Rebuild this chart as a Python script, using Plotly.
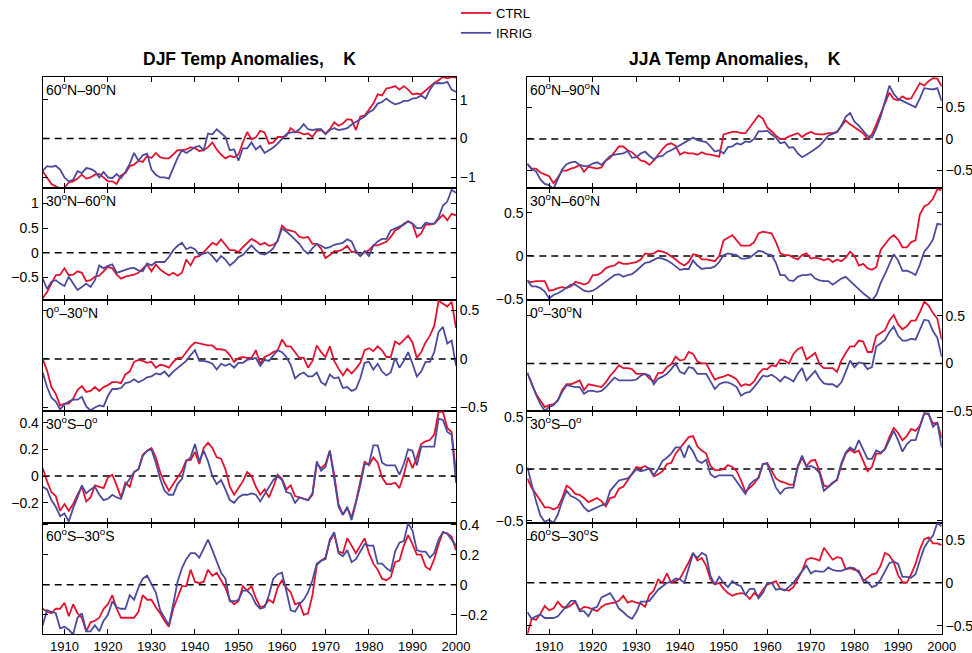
import plotly.graph_objects as go

# ---------------------------------------------------------------------------
# Annual temperature anomalies (K), 1905-2000, control vs. irrigation runs
# ---------------------------------------------------------------------------
years = list(range(1905, 2001))

# DJF, 60N-90N
djf_n60_90_ctrl = [
    -0.84, -1.02, -1.17, -1.23, -1.28, -1.26, -1.13, -1.10, -1.03, -0.93,
    -1.03, -1.00, -0.93, -0.91, -1.00, -1.10, -1.10, -1.17, -0.95, -0.89,
    -0.71, -0.67, -0.57, -0.60, -0.45, -0.50, -0.37, -0.48, -0.51, -0.51,
    -0.41, -0.30, -0.30, -0.28, -0.22, -0.25, -0.32, -0.30, -0.22, -0.10,
    -0.28, -0.41, -0.51, -0.45, -0.48, -0.41, -0.10, 0.17, -0.02, 0.03,
    0.20, 0.16, -0.13, -0.10, 0.04, 0.04, 0.07, 0.27, 0.18, 0.16,
    0.11, 0.13, 0.04, 0.20, 0.22, 0.13, 0.24, 0.42, 0.33, 0.39,
    0.50, 0.48, 0.22, 0.57, 0.59, 0.74, 0.90, 1.14, 1.11, 1.29,
    1.31, 1.35, 1.26, 1.35, 1.26, 1.14, 1.16, 1.14, 1.24, 1.35,
    1.43, 1.50, 1.59, 1.55, 1.59, 1.57]
djf_n60_90_irrig = [
    -0.83, -0.71, -0.73, -0.70, -0.80, -1.00, -1.10, -1.06, -0.84, -0.89,
    -0.76, -0.78, -0.84, -1.00, -0.86, -1.00, -1.02, -0.91, -1.02, -0.86,
    -0.65, -0.37, -0.57, -0.43, -0.39, -0.80, -0.93, -1.00, -1.00, -1.03,
    -0.76, -0.50, -0.30, -0.37, -0.30, -0.22, -0.19, -0.30, 0.13, 0.11,
    0.24, 0.13, 0.04, -0.30, -0.28, -0.57, -0.25, -0.25, -0.10, -0.28,
    -0.19, -0.37, -0.30, -0.23, -0.13, -0.02, 0.11, 0.16, 0.16, 0.24,
    0.37, 0.24, 0.22, 0.24, 0.24, 0.11, 0.22, 0.27, 0.22, 0.24,
    0.27, 0.36, 0.42, 0.50, 0.57, 0.68, 0.74, 0.90, 0.94, 1.03,
    0.94, 0.88, 0.91, 0.97, 0.97, 1.03, 1.05, 1.11, 1.03, 1.26,
    1.42, 1.43, 1.42, 1.46, 1.26, 1.20]

# DJF, 30N-60N
djf_n30_60_ctrl = [
    -0.93, -0.80, -0.63, -0.46, -0.45, -0.32, -0.46, -0.45, -0.38, -0.41,
    -0.58, -0.56, -0.49, -0.47, -0.38, -0.29, -0.32, -0.45, -0.53, -0.49,
    -0.47, -0.45, -0.41, -0.32, -0.24, -0.38, -0.24, -0.34, -0.41, -0.46,
    -0.41, -0.47, -0.41, -0.14, -0.26, -0.09, -0.07, 0.01, 0.11, 0.20,
    0.16, 0.27, 0.16, 0.05, 0.05, 0.01, 0.11, 0.20, 0.28, 0.23,
    0.16, 0.20, 0.14, 0.16, 0.23, 0.55, 0.47, 0.45, 0.42, 0.32,
    0.30, 0.32, 0.18, 0.18, 0.08, -0.11, -0.05, 0.03, 0.03, 0.07,
    0.14, 0.01, 0.03, -0.07, 0.01, 0.05, 0.15, 0.15, 0.18, 0.22,
    0.32, 0.45, 0.50, 0.59, 0.64, 0.59, 0.32, 0.39, 0.57, 0.57,
    0.59, 0.69, 0.77, 0.66, 0.79, 0.76]
djf_n30_60_irrig = [
    -0.53, -0.74, -0.59, -0.56, -0.63, -0.68, -0.49, -0.63, -0.76, -0.70,
    -0.63, -0.70, -0.56, -0.26, -0.32, -0.27, -0.24, -0.41, -0.38, -0.36,
    -0.32, -0.31, -0.36, -0.38, -0.22, -0.26, -0.19, -0.19, -0.19, -0.09,
    0.05, 0.14, 0.20, 0.07, 0.11, 0.07, -0.05, -0.02, 0.01, -0.07,
    -0.18, -0.07, -0.14, -0.26, -0.19, -0.09, -0.05, 0.05, 0.15, 0.05,
    -0.02, -0.04, 0.01, 0.09, 0.25, 0.49, 0.43, 0.35, 0.27, 0.18,
    0.05, -0.02, 0.09, 0.18, 0.14, 0.09, 0.11, 0.16, 0.18, 0.20,
    0.27, 0.23, 0.03, -0.07, 0.03, -0.07, 0.14, 0.23, 0.28, 0.28,
    0.45, 0.49, 0.54, 0.57, 0.64, 0.59, 0.50, 0.50, 0.61, 0.59,
    0.59, 0.72, 0.96, 1.04, 1.28, 1.22]

# DJF, 0-30N
djf_n0_30_ctrl = [
    0.00, -0.12, -0.29, -0.36, -0.48, -0.46, -0.46, -0.41, -0.32, -0.28,
    -0.34, -0.33, -0.29, -0.33, -0.29, -0.27, -0.24, -0.24, -0.25, -0.16,
    -0.13, -0.03, -0.01, -0.02, -0.04, -0.03, -0.09, -0.06, -0.07, -0.09,
    -0.03, 0.01, 0.01, 0.07, 0.13, 0.17, 0.16, 0.15, 0.14, 0.14,
    0.10, 0.10, 0.09, 0.04, -0.03, 0.01, 0.02, 0.01, 0.01, 0.09,
    -0.05, 0.02, 0.04, 0.07, 0.09, 0.20, 0.13, 0.13, 0.07, 0.01,
    0.01, -0.09, -0.02, 0.14, 0.07, 0.02, 0.13, -0.02, -0.10, -0.17,
    -0.10, -0.15, -0.10, -0.04, 0.09, 0.11, 0.08, 0.13, 0.09, 0.02,
    0.02, 0.18, 0.15, 0.19, 0.24, 0.17, 0.01, 0.07, 0.17, 0.24,
    0.34, 0.60, 0.57, 0.54, 0.59, 0.32]
djf_n0_30_irrig = [
    -0.14, -0.29, -0.40, -0.44, -0.52, -0.47, -0.44, -0.42, -0.42, -0.39,
    -0.49, -0.53, -0.50, -0.48, -0.49, -0.38, -0.31, -0.31, -0.30, -0.25,
    -0.24, -0.21, -0.24, -0.22, -0.19, -0.18, -0.15, -0.16, -0.13, -0.18,
    -0.13, -0.09, -0.05, -0.02, 0.04, 0.09, -0.02, -0.02, -0.03, -0.05,
    -0.11, -0.05, -0.07, -0.05, -0.09, -0.04, -0.04, -0.01, 0.00, 0.01,
    -0.07, -0.01, -0.02, 0.04, 0.09, 0.07, 0.02, -0.06, -0.20, -0.16,
    -0.14, -0.18, -0.18, -0.14, -0.24, -0.27, -0.16, -0.20, -0.19, -0.30,
    -0.29, -0.33, -0.31, -0.20, -0.04, -0.03, -0.11, -0.05, -0.13, -0.17,
    -0.14, 0.01, -0.09, -0.02, 0.07, -0.05, -0.18, -0.13, -0.03, -0.03,
    0.07, 0.28, 0.33, 0.16, 0.19, -0.07]

# DJF, 30S-0
djf_s30_0_ctrl = [
    0.06, -0.04, -0.12, -0.15, -0.26, -0.21, -0.26, -0.21, -0.14, -0.08,
    -0.19, -0.16, -0.07, -0.08, -0.09, -0.01, 0.01, -0.07, -0.16, -0.05,
    -0.08, 0.03, 0.05, 0.16, 0.19, 0.21, 0.14, 0.03, -0.05, -0.11,
    -0.06, 0.00, 0.04, 0.12, 0.12, 0.18, 0.09, 0.21, 0.25, 0.21,
    0.14, 0.13, 0.05, -0.08, -0.14, -0.09, -0.04, 0.03, 0.00, -0.08,
    -0.14, -0.10, -0.16, -0.08, 0.01, -0.02, -0.10, -0.07, -0.15, -0.16,
    -0.17, -0.18, -0.14, 0.09, 0.06, 0.09, 0.19, 0.01, -0.21, -0.29,
    -0.24, -0.31, -0.19, -0.04, 0.11, 0.08, 0.14, 0.10, -0.01, -0.06,
    -0.06, -0.05, -0.09, 0.01, 0.14, 0.06, 0.14, 0.24, 0.26, 0.27,
    0.31, 0.48, 0.48, 0.36, 0.33, 0.02]
djf_s30_0_irrig = [
    -0.08, -0.10, -0.18, -0.23, -0.30, -0.28, -0.34, -0.24, -0.16, -0.07,
    -0.13, -0.10, -0.08, -0.14, -0.18, -0.17, -0.14, -0.16, -0.17, -0.07,
    -0.02, 0.03, 0.05, 0.15, 0.19, 0.20, 0.10, -0.02, -0.11, -0.14,
    -0.14, -0.06, -0.02, 0.11, 0.14, 0.24, 0.11, 0.19, 0.11, 0.00,
    -0.06, -0.03, -0.10, -0.18, -0.20, -0.16, -0.14, -0.14, -0.13, -0.14,
    -0.19, -0.14, -0.08, -0.03, 0.00, -0.03, -0.12, -0.13, -0.20, -0.16,
    -0.17, -0.18, -0.13, 0.11, 0.04, 0.07, 0.19, -0.01, -0.23, -0.29,
    -0.23, -0.33, -0.21, -0.07, 0.09, 0.09, 0.23, 0.23, 0.10, 0.08,
    0.08, 0.08, 0.01, 0.09, 0.20, 0.19, 0.08, 0.22, 0.22, 0.22,
    0.22, 0.43, 0.42, 0.33, 0.31, -0.05]

# DJF, 60S-30S
djf_s60_30_ctrl = [
    -0.16, -0.18, -0.19, -0.16, -0.16, -0.12, -0.21, -0.13, -0.19, -0.22,
    -0.31, -0.25, -0.24, -0.22, -0.16, -0.13, -0.07, -0.16, -0.22, -0.22,
    -0.22, -0.22, -0.18, -0.07, -0.10, -0.10, -0.15, -0.19, -0.24, -0.28,
    -0.16, -0.08, -0.01, -0.01, 0.10, 0.02, 0.01, 0.02, 0.10, 0.06,
    0.08, 0.03, -0.02, -0.10, -0.13, -0.11, -0.01, -0.04, -0.01, -0.09,
    -0.15, -0.14, -0.10, -0.12, -0.02, 0.03, -0.02, -0.05, -0.13, -0.12,
    -0.20, -0.19, -0.07, 0.13, 0.16, 0.18, 0.29, 0.34, 0.22, 0.21,
    0.31, 0.26, 0.21, 0.26, 0.31, 0.21, 0.14, 0.10, 0.04, 0.03,
    0.05, 0.15, 0.16, 0.26, 0.33, 0.27, 0.20, 0.20, 0.12, 0.10,
    0.17, 0.27, 0.35, 0.34, 0.32, 0.23]
djf_s60_30_irrig = [
    -0.27, -0.17, -0.18, -0.19, -0.29, -0.28, -0.30, -0.33, -0.22, -0.19,
    -0.31, -0.31, -0.27, -0.31, -0.24, -0.20, -0.11, -0.15, -0.16, -0.16,
    -0.07, -0.10, -0.02, 0.04, 0.06, 0.00, -0.05, -0.17, -0.22, -0.27,
    -0.13, 0.02, 0.11, 0.17, 0.21, 0.21, 0.18, 0.24, 0.30, 0.23,
    0.15, 0.08, 0.04, -0.11, -0.11, -0.10, -0.04, -0.04, -0.07, -0.13,
    -0.16, -0.15, -0.07, 0.04, 0.07, 0.08, -0.04, -0.17, -0.18, -0.13,
    -0.10, -0.05, 0.03, 0.14, 0.16, 0.17, 0.30, 0.35, 0.21, 0.19,
    0.23, 0.15, 0.17, 0.22, 0.27, 0.26, 0.26, 0.14, 0.14, 0.11,
    0.09, 0.22, 0.28, 0.29, 0.41, 0.36, 0.23, 0.22, 0.22, 0.18,
    0.21, 0.30, 0.35, 0.34, 0.30, 0.26]

# JJA, 60N-90N
jja_n60_90_ctrl = [
    -0.40, -0.47, -0.47, -0.53, -0.56, -0.59, -0.70, -0.61, -0.50, -0.50,
    -0.47, -0.45, -0.41, -0.52, -0.44, -0.45, -0.47, -0.45, -0.34, -0.30,
    -0.21, -0.12, -0.12, -0.18, -0.21, -0.28, -0.34, -0.36, -0.41, -0.34,
    -0.24, -0.16, -0.09, -0.07, -0.11, -0.25, -0.21, -0.23, -0.23, -0.25,
    -0.21, -0.24, -0.25, -0.27, -0.28, 0.07, 0.09, 0.11, 0.11, 0.09,
    0.09, 0.18, 0.27, 0.37, 0.32, 0.18, 0.12, 0.05, 0.00, 0.00,
    0.04, 0.07, 0.09, 0.03, 0.08, 0.11, 0.08, 0.07, 0.07, 0.09,
    0.09, 0.11, 0.20, 0.29, 0.23, 0.18, 0.13, 0.09, 0.00, 0.07,
    0.23, 0.39, 0.56, 0.73, 0.63, 0.61, 0.67, 0.63, 0.64, 0.76,
    0.88, 0.84, 0.91, 0.96, 0.95, 0.83]
jja_n60_90_irrig = [
    -0.39, -0.48, -0.51, -0.64, -0.71, -0.73, -0.79, -0.64, -0.48, -0.40,
    -0.37, -0.36, -0.41, -0.43, -0.43, -0.39, -0.37, -0.41, -0.34, -0.27,
    -0.25, -0.24, -0.23, -0.19, -0.30, -0.29, -0.23, -0.20, -0.27, -0.32,
    -0.28, -0.27, -0.21, -0.18, -0.14, -0.11, -0.07, -0.03, 0.02, -0.02,
    -0.03, -0.05, -0.12, -0.20, -0.18, -0.23, -0.13, -0.12, -0.07, -0.09,
    -0.04, -0.05, 0.00, 0.12, 0.12, 0.13, 0.07, 0.02, -0.07, -0.05,
    -0.14, -0.13, -0.23, -0.29, -0.25, -0.21, -0.16, -0.11, -0.03, 0.05,
    0.08, 0.11, 0.21, 0.35, 0.41, 0.27, 0.21, 0.13, 0.05, 0.02,
    0.16, 0.35, 0.61, 0.84, 0.71, 0.63, 0.60, 0.57, 0.53, 0.50,
    0.64, 0.80, 0.79, 0.78, 0.80, 0.60]

# JJA, 30N-60N
jja_n30_60_ctrl = [
    -0.29, -0.30, -0.29, -0.29, -0.29, -0.40, -0.39, -0.37, -0.36, -0.37,
    -0.35, -0.30, -0.31, -0.33, -0.31, -0.22, -0.22, -0.19, -0.14, -0.12,
    -0.11, -0.07, -0.09, -0.09, -0.08, -0.07, -0.04, 0.03, 0.02, 0.03,
    0.06, 0.05, 0.03, 0.00, -0.04, -0.08, -0.11, -0.07, 0.02, 0.01,
    -0.04, -0.04, -0.05, -0.06, 0.00, 0.18, 0.21, 0.24, 0.18, 0.12,
    0.12, 0.12, 0.16, 0.26, 0.28, 0.27, 0.26, 0.16, 0.03, 0.01,
    0.01, -0.02, -0.04, 0.01, 0.03, -0.03, -0.02, -0.03, -0.05, -0.03,
    -0.07, -0.04, -0.06, -0.02, 0.05, 0.00, -0.11, -0.09, -0.14, -0.16,
    -0.13, 0.07, 0.14, 0.20, 0.24, 0.19, 0.10, 0.10, 0.16, 0.18,
    0.48, 0.57, 0.60, 0.66, 0.77, 0.76]
jja_n30_60_irrig = [
    -0.28, -0.35, -0.35, -0.37, -0.41, -0.49, -0.45, -0.43, -0.40, -0.37,
    -0.33, -0.33, -0.37, -0.40, -0.41, -0.40, -0.37, -0.33, -0.30, -0.26,
    -0.22, -0.21, -0.24, -0.22, -0.21, -0.17, -0.12, -0.08, -0.07, -0.04,
    -0.02, -0.03, -0.05, -0.08, -0.12, -0.16, -0.15, -0.15, -0.05, -0.11,
    -0.15, -0.14, -0.14, -0.12, -0.07, 0.01, 0.03, 0.02, 0.01, -0.03,
    -0.03, -0.02, 0.02, 0.06, 0.05, 0.02, 0.01, -0.08, -0.22, -0.22,
    -0.28, -0.29, -0.24, -0.22, -0.22, -0.21, -0.26, -0.28, -0.29, -0.29,
    -0.33, -0.30, -0.26, -0.24, -0.29, -0.33, -0.38, -0.43, -0.47, -0.51,
    -0.45, -0.31, -0.21, -0.10, 0.02, -0.05, -0.17, -0.17, -0.19, -0.22,
    -0.10, 0.05, 0.11, 0.19, 0.37, 0.36]

# JJA, 0-30N
jja_n0_30_ctrl = [
    -0.10, -0.22, -0.32, -0.39, -0.46, -0.44, -0.43, -0.39, -0.28, -0.22,
    -0.22, -0.20, -0.18, -0.28, -0.22, -0.23, -0.24, -0.25, -0.20, -0.13,
    -0.08, -0.02, -0.05, -0.05, -0.06, -0.11, -0.11, -0.11, -0.16, -0.19,
    -0.10, -0.10, -0.04, -0.01, 0.07, 0.03, 0.04, 0.12, 0.10, 0.02,
    0.00, 0.00, -0.09, -0.17, -0.15, -0.14, -0.12, -0.14, -0.17, -0.24,
    -0.22, -0.23, -0.19, -0.11, -0.06, -0.06, -0.02, -0.03, 0.04, 0.03,
    0.00, 0.10, 0.15, 0.17, 0.04, 0.08, 0.11, -0.01, -0.05, -0.05,
    -0.05, -0.09, 0.03, 0.11, 0.18, 0.18, 0.24, 0.23, 0.12, 0.12,
    0.29, 0.32, 0.35, 0.45, 0.51, 0.41, 0.36, 0.39, 0.45, 0.45,
    0.54, 0.65, 0.61, 0.53, 0.47, 0.25]
jja_n0_30_irrig = [
    -0.10, -0.22, -0.33, -0.43, -0.50, -0.46, -0.44, -0.39, -0.30, -0.23,
    -0.24, -0.25, -0.25, -0.32, -0.29, -0.29, -0.30, -0.29, -0.25, -0.20,
    -0.15, -0.18, -0.18, -0.18, -0.18, -0.17, -0.13, -0.11, -0.13, -0.22,
    -0.16, -0.14, -0.11, -0.06, 0.00, -0.09, -0.11, -0.04, -0.05, -0.11,
    -0.11, -0.11, -0.19, -0.27, -0.22, -0.20, -0.20, -0.22, -0.25, -0.34,
    -0.31, -0.30, -0.25, -0.19, -0.13, -0.14, -0.12, -0.15, -0.19, -0.14,
    -0.16, -0.19, -0.11, -0.05, -0.18, -0.13, -0.08, -0.16, -0.21, -0.22,
    -0.22, -0.25, -0.20, -0.09, 0.03, -0.04, 0.01, 0.00, -0.06, -0.04,
    0.18, 0.21, 0.25, 0.33, 0.39, 0.29, 0.24, 0.24, 0.26, 0.25,
    0.36, 0.46, 0.45, 0.34, 0.27, 0.07]

# JJA, 30S-0
jja_s30_0_ctrl = [
    -0.09, -0.18, -0.24, -0.31, -0.37, -0.37, -0.39, -0.37, -0.28, -0.16,
    -0.19, -0.24, -0.25, -0.28, -0.32, -0.30, -0.28, -0.31, -0.36, -0.28,
    -0.27, -0.19, -0.17, -0.11, -0.04, 0.02, 0.01, 0.03, 0.00, -0.07,
    -0.05, -0.02, 0.05, 0.06, 0.15, 0.20, 0.26, 0.31, 0.32, 0.22,
    0.18, 0.15, 0.03, -0.01, -0.01, 0.00, 0.04, 0.02, -0.02, -0.11,
    -0.22, -0.18, -0.14, -0.08, 0.05, 0.06, -0.02, -0.09, -0.12, -0.13,
    -0.15, -0.15, 0.02, 0.11, 0.03, 0.08, 0.09, -0.02, -0.16, -0.17,
    -0.13, -0.11, 0.04, 0.15, 0.19, 0.16, 0.18, 0.08, -0.02, 0.02,
    0.15, 0.15, 0.20, 0.31, 0.40, 0.35, 0.28, 0.32, 0.39, 0.37,
    0.42, 0.54, 0.53, 0.44, 0.45, 0.30]
jja_s30_0_irrig = [
    0.02, -0.16, -0.31, -0.45, -0.51, -0.49, -0.52, -0.44, -0.31, -0.21,
    -0.26, -0.28, -0.31, -0.37, -0.41, -0.39, -0.37, -0.35, -0.34, -0.21,
    -0.16, -0.11, -0.10, -0.09, -0.05, 0.00, -0.02, -0.01, 0.01, -0.06,
    0.00, 0.08, 0.11, 0.15, 0.21, 0.21, 0.11, 0.23, 0.17, 0.08,
    0.06, 0.09, -0.05, -0.08, -0.06, -0.06, -0.06, -0.06, -0.12, -0.18,
    -0.24, -0.15, -0.11, -0.09, 0.05, 0.05, -0.06, -0.18, -0.24, -0.19,
    -0.18, -0.18, 0.03, 0.13, 0.02, 0.03, 0.01, -0.04, -0.21, -0.17,
    -0.13, -0.10, 0.06, 0.16, 0.21, 0.18, 0.28, 0.19, 0.10, 0.10,
    0.18, 0.16, 0.19, 0.28, 0.37, 0.28, 0.17, 0.24, 0.28, 0.28,
    0.40, 0.54, 0.54, 0.41, 0.45, 0.21]

# JJA, 60S-30S
jja_s60_30_ctrl = [
    -0.60, -0.42, -0.43, -0.36, -0.27, -0.32, -0.30, -0.22, -0.28, -0.29,
    -0.26, -0.22, -0.32, -0.28, -0.29, -0.31, -0.33, -0.28, -0.25, -0.24,
    -0.23, -0.21, -0.15, -0.23, -0.21, -0.23, -0.24, -0.28, -0.14, -0.09,
    0.04, 0.00, 0.11, 0.00, 0.02, 0.05, 0.14, 0.24, 0.35, 0.26,
    0.29, 0.20, 0.04, -0.02, 0.00, -0.07, -0.12, -0.15, -0.13, -0.12,
    -0.13, -0.19, -0.12, -0.16, -0.08, -0.02, 0.00, 0.02, -0.07, -0.08,
    -0.09, -0.05, 0.04, 0.14, 0.27, 0.29, 0.28, 0.26, 0.41, 0.34,
    0.27, 0.30, 0.29, 0.16, 0.17, 0.15, 0.14, 0.02, 0.06, 0.10,
    0.11, 0.20, 0.35, 0.32, 0.24, 0.09, 0.01, 0.00, 0.10, 0.22,
    0.39, 0.51, 0.53, 0.46, 0.46, 0.44]
jja_s60_30_irrig = [
    -0.34, -0.42, -0.39, -0.37, -0.41, -0.41, -0.41, -0.39, -0.33, -0.27,
    -0.21, -0.21, -0.33, -0.33, -0.39, -0.30, -0.28, -0.17, -0.14, -0.12,
    -0.20, -0.30, -0.34, -0.39, -0.42, -0.34, -0.22, -0.22, -0.21, -0.15,
    -0.08, -0.04, 0.00, 0.01, 0.05, 0.04, 0.00, 0.17, 0.34, 0.29,
    0.35, 0.32, 0.08, -0.02, 0.07, 0.00, -0.05, 0.02, -0.02, -0.04,
    -0.14, -0.07, -0.07, -0.18, -0.12, 0.00, 0.00, -0.08, -0.07, -0.09,
    -0.05, 0.00, 0.07, 0.14, 0.20, 0.11, 0.14, 0.13, 0.13, 0.18,
    0.15, 0.14, 0.14, 0.16, 0.18, 0.17, 0.12, 0.04, 0.01, -0.05,
    -0.03, 0.04, 0.13, 0.23, 0.25, 0.22, 0.07, 0.07, 0.06, 0.10,
    0.26, 0.41, 0.49, 0.55, 0.70, 0.66]

region_labels = ["60<sup>o</sup>N\u201390<sup>o</sup>N",
                 "30<sup>o</sup>N\u201360<sup>o</sup>N",
                 "0<sup>o</sup>\u201330<sup>o</sup>N",
                 "30<sup>o</sup>S\u20130<sup>o</sup>",
                 "60<sup>o</sup>S\u201330<sup>o</sup>S"]
column_titles = ["DJF Temp Anomalies,\u00a0\u00a0\u00a0\u00a0K",
                 "JJA Temp Anomalies,\u00a0\u00a0\u00a0\u00a0K"]
series_names = ["CTRL", "IRRIG"]
year_ticks = list(range(1910, 2001, 10))

# (ctrl, irrig, y-range, y tick values, tick label side) for each column, top to bottom
panels = [
    [
        (djf_n60_90_ctrl, djf_n60_90_irrig, [-1.28, 1.59], [-1, 0, 1], "right"),
        (djf_n30_60_ctrl, djf_n30_60_irrig, [-0.96, 1.31], [-0.5, 0, 0.5, 1], "left"),
        (djf_n0_30_ctrl, djf_n0_30_irrig, [-0.54, 0.61], [-0.5, 0, 0.5], "right"),
        (djf_s30_0_ctrl, djf_s30_0_irrig, [-0.35, 0.485], [-0.2, 0, 0.2, 0.4], "left"),
        (djf_s60_30_ctrl, djf_s60_30_irrig, [-0.33, 0.412], [-0.2, 0, 0.2, 0.4], "right"),
    ],
    [
        (jja_n60_90_ctrl, jja_n60_90_irrig, [-0.78, 0.98], [-0.5, 0, 0.5], "right"),
        (jja_n30_60_ctrl, jja_n30_60_irrig, [-0.505, 0.78], [-0.5, 0, 0.5], "left"),
        (jja_n0_30_ctrl, jja_n0_30_irrig, [-0.505, 0.67], [-0.5, 0, 0.5], "right"),
        (jja_s30_0_ctrl, jja_s30_0_irrig, [-0.52, 0.56], [-0.5, 0, 0.5], "left"),
        (jja_s60_30_ctrl, jja_s60_30_irrig, [-0.6, 0.70], [-0.5, 0, 0.5], "right"),
    ],
]

W, H = 972, 653
RED = "#e3122f"
BLUE = "#4b4b9d"
FONT = "Liberation Sans, Arial, Helvetica, sans-serif"

col_px = [(42.7, 456.0), (527.3, 941.7)]
row_edges = [76.8, 188.3, 299.8, 411.3, 522.8, 634.3]

fig = go.Figure()
layout = dict(
    width=W, height=H, autosize=False,
    margin=dict(l=0, r=0, t=0, b=0, autoexpand=False),
    paper_bgcolor="white", plot_bgcolor="white",
    font=dict(family=FONT, size=14, color="black"),
    showlegend=True,
    legend=dict(x=456 / W, y=1 + 2 / H, xanchor="left", yanchor="top",
                bgcolor="rgba(0,0,0,0)", font=dict(size=13, family=FONT),
                tracegroupgap=0, itemwidth=30),
)
annotations = []
shapes = []

n = 0
for c, column in enumerate(panels):
    x0, x1 = col_px[c]
    for r, (ctrl, irrig, yr, ytv, side) in enumerate(column):
        n += 1
        suffix = "" if n == 1 else str(n)
        xa, ya = "x" + suffix, "y" + suffix
        fig.add_trace(go.Scatter(
            x=years, y=ctrl, mode="lines", name=series_names[0],
            line=dict(color=RED, width=1.8), xaxis=xa, yaxis=ya,
            showlegend=(n == 1), legendrank=1))
        fig.add_trace(go.Scatter(
            x=years, y=irrig, mode="lines", name=series_names[1],
            line=dict(color=BLUE, width=1.8), xaxis=xa, yaxis=ya,
            showlegend=(n == 1), legendrank=2))

        top, bot = row_edges[r], row_edges[r + 1]
        layout["xaxis" + suffix] = dict(
            domain=[x0 / W, x1 / W], anchor=ya, range=[1905, 2000],
            tickvals=year_ticks, showticklabels=(r == 4),
            ticks="inside", ticklen=5, tickwidth=1, tickcolor="black",
            showline=True, linecolor="black", linewidth=1, mirror="ticks",
            showgrid=False, zeroline=False,
            tickfont=dict(size=13, family=FONT))
        layout["yaxis" + suffix] = dict(
            domain=[1 - bot / H, 1 - top / H], anchor=xa, range=yr,
            tickvals=ytv, side=side,
            ticks="inside", ticklen=5, tickwidth=1, tickcolor="black",
            showline=True, linecolor="black", linewidth=1, mirror="ticks",
            showgrid=False, zeroline=False,
            tickfont=dict(size=14, family=FONT))

        # dashed zero reference
        shapes.append(dict(type="line", xref=xa + " domain", yref=ya,
                           x0=0, x1=1, y0=0, y1=0,
                           line=dict(color="black", width=1.5, dash="7px,5px"),
                           layer="below"))
        # region label
        annotations.append(dict(text=region_labels[r], xref=xa + " domain",
                                yref=ya + " domain", x=0.0, y=1.0,
                                xanchor="left", yanchor="top", xshift=1, yshift=-1,
                                showarrow=False,
                                font=dict(size=14, family=FONT, color="black")))
    annotations.append(dict(text="<b>" + column_titles[c] + "</b>", xref="paper",
                            yref="paper", x=(x0 + x1) / 2 / W, y=1 - 59 / H,
                            xanchor="center", yanchor="middle", showarrow=False,
                            font=dict(size=17.5, family=FONT, color="black")))

layout["annotations"] = annotations
layout["shapes"] = shapes
fig.update_layout(**layout)
fig.write_html("out.html")
